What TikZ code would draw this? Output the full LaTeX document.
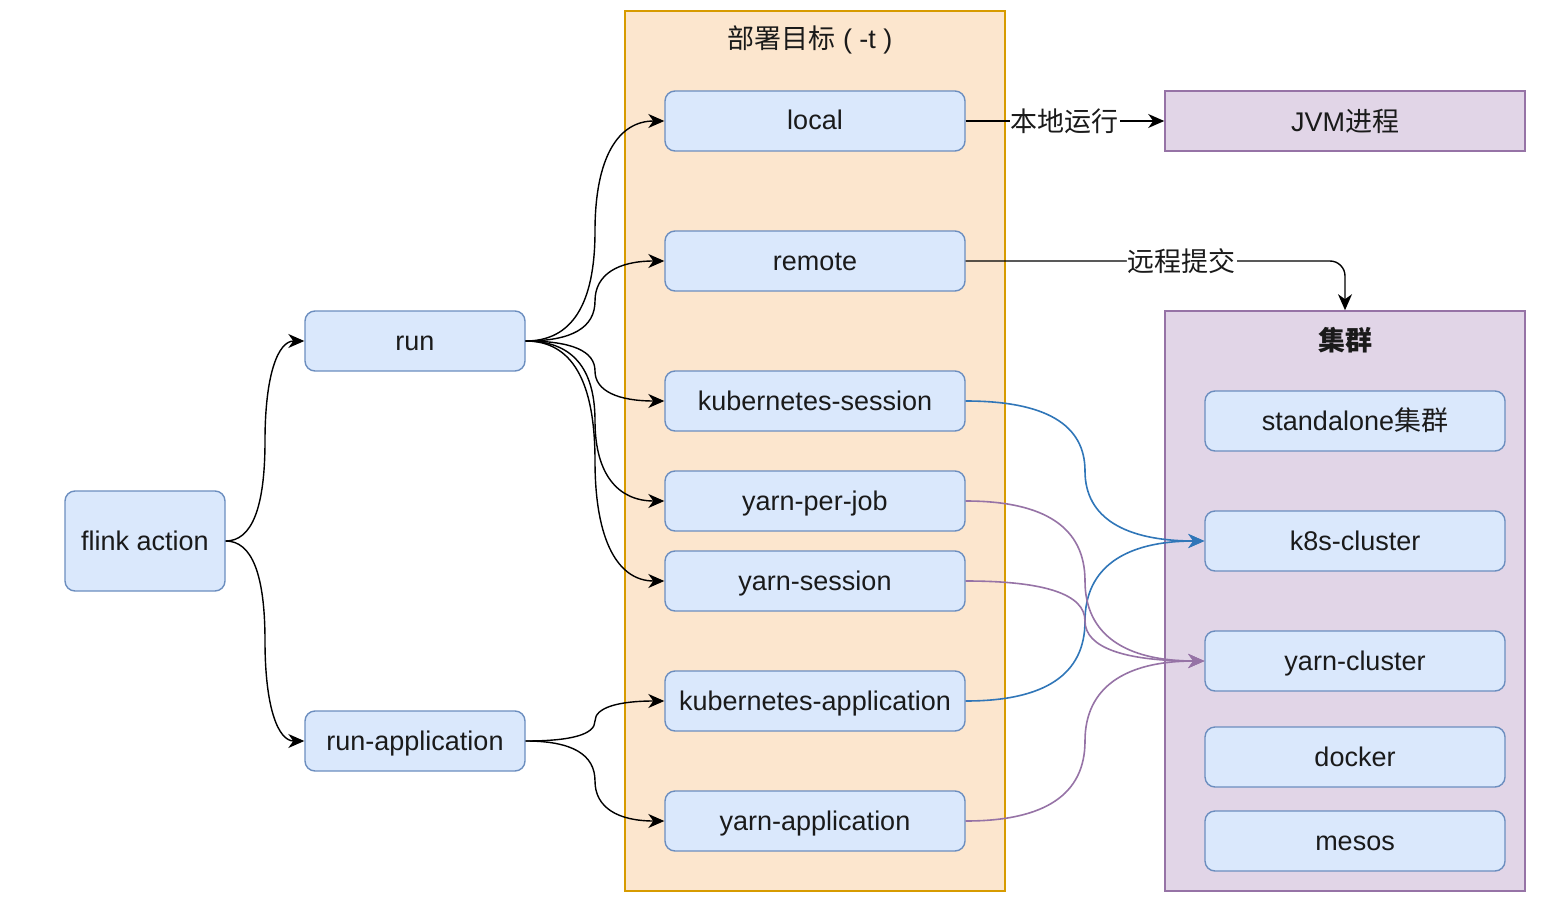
\documentclass[tikz,border=0pt]{standalone}
\usepackage{fontspec}
\setmainfont{Liberation Sans}
\newfontfamily\cjk{Noto Sans CJK SC}
\usetikzlibrary{arrows.meta,calc}
\definecolor{bfill}{HTML}{DAE8FC}
\definecolor{bline}{HTML}{6C8EBF}
\definecolor{ofill}{HTML}{FCE6CE}
\definecolor{oline}{HTML}{D79B00}
\definecolor{pfill}{HTML}{E1D5E7}
\definecolor{pline}{HTML}{9673A6}
\definecolor{eblue}{HTML}{3076B8}
\definecolor{epurp}{HTML}{9673A6}
\definecolor{txt}{HTML}{1A1A1A}
\newcommand\crv[3][]{\draw[arr,#1] let \p1=(#2), \p2=(#3),
  \n1={(\x1+\x2)/2}, \n2={(\y1+\y2)/2} in
  (\p1) .. controls ({\x1+2/3*(\n1-\x1)},\y1) and (\n1,{\n2+2/3*(\y1-\n2)}) ..
  (\n1,\n2) .. controls (\n1,{\n2+2/3*(\y2-\n2)}) and ({\x2+2/3*(\n1-\x2)},\y2) .. (\p2);}
\begin{document}
\begin{tikzpicture}[x=1pt,y=-1pt,
  every node/.style={font=\fontsize{27}{32}\selectfont,text=txt},
  box/.style={draw=bline,fill=bfill,line width=1.4pt,rounded corners=10pt,minimum width=300pt,minimum height=60pt,inner sep=0pt,text height=22pt,text depth=4pt},
  obox/.style={draw=oline,fill=ofill,line width=1.4pt,inner sep=0pt},
  pbox/.style={draw=pline,fill=pfill,line width=1.6pt,inner sep=0pt},
  arr/.style={-{Stealth[length=16pt,width=14pt,inset=5pt]},line width=1.4pt,black},
  lab/.style={fill=white,inner sep=1pt}]
\useasboundingbox (0,0) rectangle (1568,920);
% containers
\node[obox,minimum width=380pt,minimum height=880pt] (orng) at (815,451) {};
\node (otitle) at (810,40) {{\cjk 部署目标} ( -t )};
\node[pbox,minimum width=360pt,minimum height=580pt] (clus) at (1345,601) {};
\node (ctitle) at (1345,340) {\cjk\bfseries 集群};
\node[pbox,minimum width=360pt,minimum height=60pt] (jvm) at (1345,121) {JVM{\cjk 进程}};
% left nodes
\node[box,minimum width=160pt,minimum height=100pt] (flink) at (145,541) {flink action};
\node[box,minimum width=220pt] (run) at (415,341) {run};
\node[box,minimum width=220pt] (runapp) at (415,741) {run-application};
% targets
\node[box] (local) at (815,121) {local};
\node[box] (remote) at (815,261) {remote};
\node[box] (ks) at (815,401) {kubernetes-session};
\node[box] (ypj) at (815,501) {yarn-per-job};
\node[box] (ys) at (815,581) {yarn-session};
\node[box] (ka) at (815,701) {kubernetes-application};
\node[box] (ya) at (815,821) {yarn-application};
% clusters
\node[box] (sa) at (1355,421) {standalone{\cjk 集群}};
\node[box] (k8s) at (1355,541) {k8s-cluster};
\node[box] (yc) at (1355,661) {yarn-cluster};
\node[box] (dock) at (1355,757) {docker};
\node[box] (mes) at (1355,841) {mesos};
% edges
\crv{flink.east}{run.west}
\crv{flink.east}{runapp.west}
\crv{run.east}{local.west}
\crv{run.east}{remote.west}
\crv{run.east}{ks.west}
\crv{run.east}{ypj.west}
\crv{run.east}{ys.west}
\crv{runapp.east}{ka.west}
\crv{runapp.east}{ya.west}
\crv[eblue,line width=1.6pt]{ks.east}{k8s.west}
\crv[eblue,line width=1.6pt]{ka.east}{k8s.west}
\crv[epurp,line width=1.6pt]{ypj.east}{yc.west}
\crv[epurp,line width=1.6pt]{ys.east}{yc.west}
\crv[epurp,line width=1.6pt]{ya.east}{yc.west}
\draw[arr] (local.east) -- node[lab] {\cjk 本地运行} (jvm.west);
\draw[arr,rounded corners=15pt] (remote.east) -- node[lab,pos=0.57] {\cjk 远程提交} (remote.east -| clus.north) -- (clus.north);
\end{tikzpicture}
\end{document}
